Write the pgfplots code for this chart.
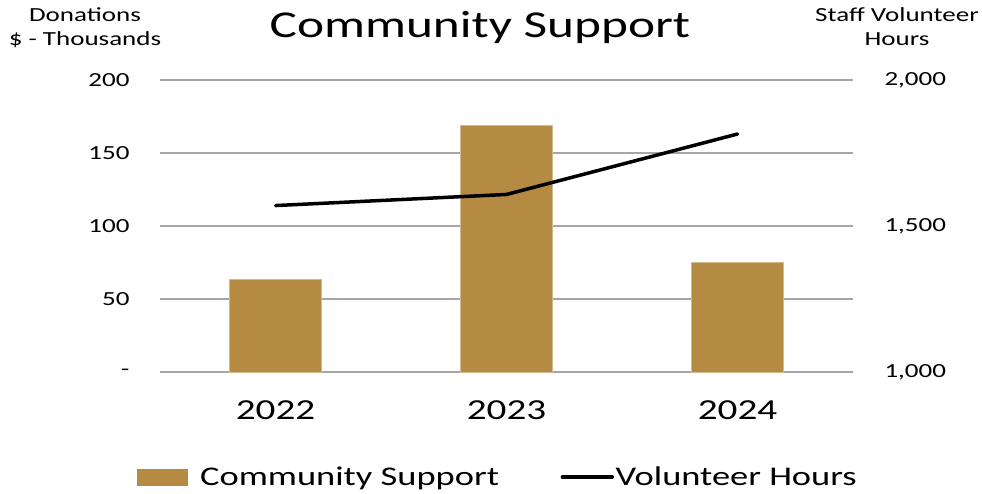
\documentclass[border=0pt]{standalone}
\usepackage{pgfplots}
\pgfplotsset{compat=1.18}
\usepackage{fontspec}
\setmainfont{Carlito}[FakeStretch=1.35]
\definecolor{gold}{HTML}{B58A43}
\definecolor{gridgray}{HTML}{A6A6A6}
\begin{document}
\begin{tikzpicture}[x=1pt,y=1pt]
\path[use as bounding box] (0,0) rectangle (982,493);
\begin{axis}[
  at={(160pt,121pt)}, anchor=south west, scale only axis,
  width=693pt, height=292pt,
  xmin=-0.5, xmax=2.5, ymin=0, ymax=200,
  xtick={0,1,2}, xticklabels={2022,2023,2024},
  ytick={0,50,100,150,200}, yticklabels={-,50,100,150,200},
  ymajorgrids, grid style={gridgray, line width=1.3pt},
  axis line style={draw=none}, major tick length=0pt,
  xticklabel style={font=\fontsize{29}{34}\selectfont, yshift=-25pt},
  yticklabel style={font=\fontsize{20}{24}\selectfont, xshift=-27pt},
  ybar, bar width=92pt,
]
\addplot[fill=gold, draw=gold!60!white, line width=0.6pt] coordinates {(0,63.5) (1,169) (2,75.3)};
\end{axis}
\begin{axis}[
  at={(160pt,121pt)}, anchor=south west, scale only axis,
  width=693pt, height=292pt,
  xmin=-0.5, xmax=2.5, ymin=1000, ymax=2000,
  axis y line*=right, hide x axis,
  axis line style={draw=none}, major tick length=0pt,
  ytick={1000,1500,2000}, yticklabels={{1,000},{1,500},{2,000}},
  yticklabel style={font=\fontsize{20}{24}\selectfont, xshift=28pt},
  legend columns=2,
  legend style={draw=none, fill=none, inner sep=0pt, at={(-0.033,-0.36)}, anchor=west,
    font=\fontsize{27}{32}\selectfont,
    nodes={inner sep=1.5pt},
    /tikz/every even column/.append style={column sep=60pt}},
]
\addlegendimage{legend image code/.code={\fill[gold] (0pt,-8pt) rectangle (50pt,8pt); \path (61pt,0pt);}}
\addlegendentry{Community Support}
\addplot[black, line width=3.5pt, line join=round, line cap=round,
  legend image code/.code={\draw[black,line width=3.5pt] (0pt,0pt) -- (50pt,0pt);}]
  coordinates {(0,1570) (1,1608) (2,1815)};
\addlegendentry{Volunteer Hours}
\end{axis}
\node[anchor=base] at (480,455) {\fontsize{38}{44}\selectfont Community Support};
\node[anchor=base] at (85,471) {\fontsize{20}{24}\selectfont Donations};
\node[anchor=base] at (85,447) {\fontsize{20}{24}\selectfont \$ - Thousands};
\node[anchor=base] at (897,471) {\fontsize{20}{24}\selectfont Staff Volunteer};
\node[anchor=base] at (897,447) {\fontsize{20}{24}\selectfont Hours};
\end{tikzpicture}
\end{document}
